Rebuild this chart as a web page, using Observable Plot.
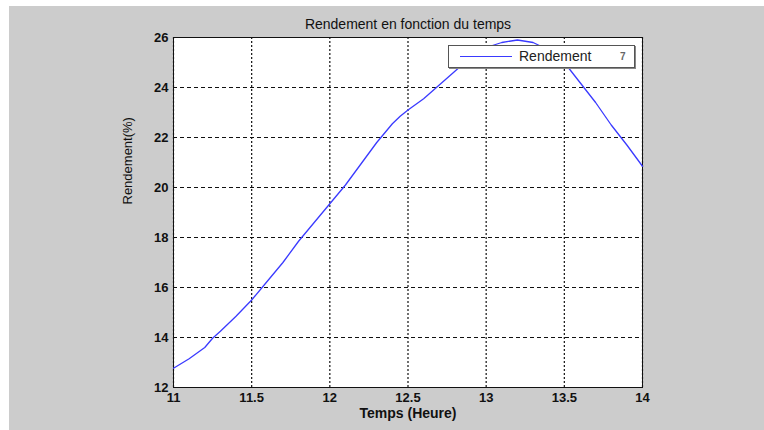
<!DOCTYPE html>
<html>
<head>
<meta charset="utf-8">
<script src="https://cdn.jsdelivr.net/npm/d3@7"></script>
<script src="https://cdn.jsdelivr.net/npm/@observablehq/plot@0.6"></script>
<style>
  html, body { margin: 0; padding: 0; background: #ffffff; }
  #wrap { position: relative; width: 764px; height: 430px; }
  #legend {
    position: absolute; left: 448px; top: 45px; width: 185px; height: 21px;
    background: #fff; border: 1px solid #555; box-shadow: 1px 1px 0 #888;
    font-family: "Liberation Sans", Arial, sans-serif; font-size: 14px; color: #222;
  }
  #legend .sw { position: absolute; left: 11px; top: 10px; width: 52px; height: 0; border-top: 1.3px solid #3a3aff; }
  #legend .lb { position: absolute; left: 70px; top: 2px; }
  #legend .ex { position: absolute; left: 171px; top: 5px; font-size: 10px; font-weight: bold; color: #666; }
</style>
</head>
<body>
<div id="wrap"></div>
<script>
const temps = [11.0, 11.1, 11.2, 11.25, 11.3, 11.4, 11.5, 11.6, 11.7, 11.8, 11.9, 12.0, 12.1, 12.2, 12.3, 12.4, 12.45, 12.5, 12.6, 12.7, 12.8, 12.9, 13.0, 13.1, 13.2, 13.3, 13.4, 13.5, 13.6, 13.7, 13.8, 13.9, 14.0];
const rendement = [12.77, 13.15, 13.6, 13.97, 14.25, 14.85, 15.5, 16.25, 17.0, 17.85, 18.6, 19.35, 20.1, 20.95, 21.8, 22.55, 22.85, 23.1, 23.55, 24.1, 24.65, 25.2, 25.6, 25.8, 25.9, 25.8, 25.5, 25.0, 24.2, 23.4, 22.5, 21.7, 20.85];
const xTicks = [11, 11.5, 12, 12.5, 13, 13.5, 14];
const yTicks = [12, 14, 16, 18, 20, 22, 24, 26];
const titre = "Rendement en fonction du temps";
const xLabel = "Temps (Heure)";
const yLabel = "Rendement(%)";
const legendLabel = "Rendement";

const data = temps.map((t, i) => ({t, r: rendement[i]}));

const chart = Plot.plot({
  width: 764,
  height: 430,
  marginLeft: 173,
  marginRight: 122,
  marginTop: 37,
  marginBottom: 43,
  style: {
    fontFamily: "'Liberation Sans', Arial, sans-serif",
    fontSize: "13px",
    fontWeight: "bold",
    color: "#111",
    background: "linear-gradient(#cccccc, #cccccc) no-repeat 9px 6px / 755px 424px",
    overflow: "visible"
  },
  x: {domain: [11, 14]},
  y: {domain: [12, 26]},
  marks: [
    Plot.frame({fill: "white", stroke: "none"}),
    Plot.ruleY(yTicks, {stroke: "#111", strokeDasharray: "4,3", strokeWidth: 1}),
    Plot.ruleX(xTicks, {stroke: "#111", strokeDasharray: "2,2", strokeWidth: 1.2}),
    Plot.frame({stroke: "#111", strokeWidth: 1}),
    Plot.line(data, {x: "t", y: "r", stroke: "#3a3aff", strokeWidth: 1.3}),
    Plot.axisX({ticks: xTicks, tickSize: 0, tickPadding: 5, label: null, tickFormat: d3.format("")}),
    Plot.axisY({ticks: yTicks, tickSize: 0, tickPadding: 5, label: null}),
    Plot.text([titre], {frameAnchor: "top", dy: -18, fontSize: 14, fontWeight: "normal", fill: "#111"}),
    Plot.text([xLabel], {frameAnchor: "bottom", dy: 30, fontSize: 14, fontWeight: "bold", fill: "#111"}),
    Plot.text([yLabel], {frameAnchor: "left", dx: -46, dy: -8, rotate: -90, fontSize: 13, fontWeight: "normal", fill: "#111"})
  ]
});

const wrap = document.getElementById("wrap");
wrap.appendChild(chart);
const legend = document.createElement("div");
legend.id = "legend";
legend.innerHTML = `<div class="sw"></div><div class="lb">${legendLabel}</div><div class="ex">7</div>`;
wrap.appendChild(legend);
</script>
</body>
</html>
